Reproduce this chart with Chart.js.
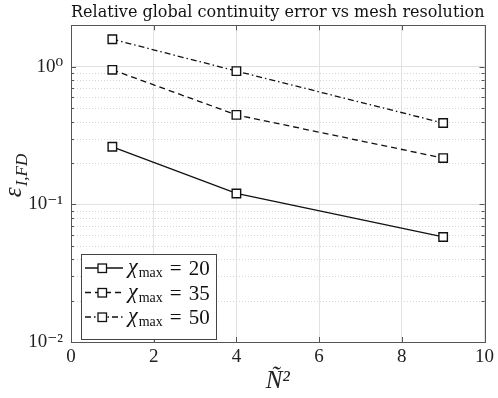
<!DOCTYPE html>
<html>
<head>
<meta charset="utf-8">
<script src="https://cdn.jsdelivr.net/npm/chart.js@4"></script>
<style>
  html, body { margin: 0; padding: 0; background: #fff; }
  #wrap { width: 498px; height: 398px; }
</style>
</head>
<body>
<div id="wrap"><canvas id="errChart" width="498" height="398"></canvas></div>
<script>
'use strict';

// --- data ---
const xValues = [1, 4, 9];
const chi20 = [0.262, 0.120, 0.058];
const chi35 = [0.95, 0.447, 0.217];
const chi50 = [1.585, 0.93, 0.39];
const seriesNames = ['20', '35', '50'];
const xTicks = [0, 2, 4, 6, 8, 10];
const yMajor = [0.01, 0.1, 1];
const yMajorLabels = ['10\u207B\u00B2', '10\u207B\u00B9', '10\u2070'];

const SERIF = '"Liberation Serif", "DejaVu Serif", serif';
const dashes = [[], [6, 4], [6, 3, 1.5, 3]];

// minor + major log positions for the y axis
function logTicks(min, max) {
  const out = [];
  for (let e = -2; e <= 0; e++) {
    for (let m = 1; m <= 9; m++) {
      const v = +(m * Math.pow(10, e)).toPrecision(3);
      if (v >= min && v <= max) out.push(v);
    }
  }
  return out;
}
const isMajor = v => Math.abs(Math.log10(v) - Math.round(Math.log10(v))) < 1e-6;

// grid, inward ticks and box, MATLAB style
const axesDecor = {
  id: 'axesDecor',
  beforeDatasetsDraw(chart) {
    const { ctx, chartArea: a, scales: { y } } = chart;
    ctx.save();
    ctx.lineWidth = 1;
    ctx.strokeStyle = '#d4d4d4';
    ctx.setLineDash([1, 2]);
    y.ticks.forEach(t => {
      if (isMajor(t.value)) return;
      const py = Math.round(y.getPixelForValue(t.value)) + 0.5;
      ctx.beginPath(); ctx.moveTo(a.left, py); ctx.lineTo(a.right, py); ctx.stroke();
    });
    ctx.restore();
  },
  afterDatasetsDraw(chart) {
    const { ctx, chartArea: a, scales: { x, y } } = chart;
    ctx.save();
    ctx.strokeStyle = '#555';
    ctx.lineWidth = 1;
    ctx.setLineDash([]);
    y.ticks.forEach(t => {
      const py = Math.round(y.getPixelForValue(t.value)) + 0.5;
      const len = isMajor(t.value) ? 5 : 3;
      ctx.beginPath();
      ctx.moveTo(a.left, py); ctx.lineTo(a.left + len, py);
      ctx.moveTo(a.right, py); ctx.lineTo(a.right - len, py);
      ctx.stroke();
    });
    x.ticks.forEach(t => {
      const px = Math.round(x.getPixelForValue(t.value)) + 0.5;
      ctx.beginPath();
      ctx.moveTo(px, a.bottom); ctx.lineTo(px, a.bottom - 5);
      ctx.moveTo(px, a.top); ctx.lineTo(px, a.top + 5);
      ctx.stroke();
    });
    ctx.strokeRect(Math.round(a.left) + 0.5, Math.round(a.top) + 0.5,
      Math.round(a.right - a.left), Math.round(a.bottom - a.top));
    ctx.restore();
  },
  afterDraw(chart) {
    const { ctx } = chart;
    ctx.save();
    // y axis label: epsilon with subscript I,FD
    ctx.translate(17, 176);
    ctx.rotate(-Math.PI / 2);
    ctx.fillStyle = '#222';
    ctx.textBaseline = 'alphabetic';
    ctx.font = 'italic 25px ' + SERIF;
    const w1 = ctx.measureText('\u03B5').width;
    ctx.font = 'italic 17px ' + SERIF;
    const w2 = ctx.measureText('I,FD').width;
    const x0 = -(w1 + w2) / 2;
    ctx.font = 'italic 25px ' + SERIF;
    ctx.fillText('\u03B5', x0, 4);
    ctx.font = 'italic 17px ' + SERIF;
    ctx.fillText('I,FD', x0 + w1 + 1, 10);
    ctx.restore();

    // legend box
    const lx = 81, ly = 254, lw = 135, lh = 85;
    ctx.save();
    ctx.fillStyle = '#fff';
    ctx.fillRect(lx, ly, lw, lh);
    ctx.strokeStyle = '#444';
    ctx.lineWidth = 1;
    ctx.strokeRect(lx + 0.5, ly + 0.5, lw, lh);
    chart.data.datasets.forEach((ds, i) => {
      const ry = 268 + i * 24.5;
      ctx.strokeStyle = '#111';
      ctx.lineWidth = 1.3;
      ctx.setLineDash(dashes[i]);
      ctx.beginPath(); ctx.moveTo(85, ry); ctx.lineTo(123, ry); ctx.stroke();
      ctx.setLineDash([]);
      ctx.fillStyle = '#fff';
      ctx.fillRect(98, ry - 4, 8.5, 8.5);
      ctx.strokeRect(98, ry - 4, 8.5, 8.5);
      ctx.fillStyle = '#111';
      ctx.textBaseline = 'alphabetic';
      ctx.font = 'italic 22px ' + SERIF;
      ctx.fillText('\u03C7', 128, ry + 5);
      let tx = 128 + ctx.measureText('\u03C7').width + 1;
      ctx.font = '14px ' + SERIF;
      ctx.fillText('max', tx, ry + 9);
      tx += ctx.measureText('max').width + 7;
      ctx.font = '21px ' + SERIF;
      ctx.fillText('=', tx, ry + 7);
      tx += ctx.measureText('=').width + 7;
      ctx.fillText(seriesNames[i], tx, ry + 7);
    });
    ctx.restore();
  }
};

function mkSet(label, data, dash) {
  return {
    label,
    data: xValues.map((x, i) => ({ x, y: data[i] })),
    borderColor: '#111',
    borderWidth: 1.3,
    borderDash: dash,
    backgroundColor: '#fff',
    pointStyle: 'rect',
    pointRadius: 6,
    pointBorderWidth: 1.4,
    pointBorderColor: '#111',
    pointBackgroundColor: '#fff',
    tension: 0,
    fill: false,
  };
}

new Chart(document.getElementById('errChart').getContext('2d'), {
  type: 'line',
  data: {
    datasets: [
      mkSet('\u03C7max = 20', chi20, dashes[0]),
      mkSet('\u03C7max = 35', chi35, dashes[1]),
      mkSet('\u03C7max = 50', chi50, dashes[2]),
    ],
  },
  options: {
    responsive: false,
    animation: false,
    devicePixelRatio: 1,
    layout: { padding: { left: 0, right: 11, top: 0, bottom: 0 } },
    plugins: {
      legend: { display: false },
      tooltip: { enabled: false },
      title: {
        display: true,
        fullSize: false,
        text: 'Relative global continuity error vs mesh resolution',
        color: '#111',
        font: { family: '"DejaVu Serif", serif', size: 16.5, weight: 'normal', lineHeight: 1.05 },
        padding: { top: 4, bottom: 4 },
      },
    },
    scales: {
      x: {
        type: 'linear',
        min: 0,
        max: 10,
        afterBuildTicks: s => { s.ticks = xTicks.map(v => ({ value: v })); },
        afterFit: s => { s.height = 56; },
        grid: { color: '#e2e2e2', drawTicks: false, lineWidth: 1 },
        border: { display: false },
        ticks: {
          color: '#222',
          padding: 4,
          font: { family: SERIF, size: 19 },
          maxRotation: 0,
        },
        title: {
          display: true,
          text: '\u00D1\u00B2',
          color: '#222',
          font: { family: SERIF, size: 25, style: 'italic' },
          padding: { top: 0, bottom: 2 },
        },
      },
      y: {
        type: 'logarithmic',
        min: 0.01,
        max: 2,
        afterBuildTicks: s => { s.ticks = logTicks(0.01, 2).map(v => ({ value: v })); },
        afterFit: s => { s.width = 71; },
        grid: {
          drawTicks: false,
          color: c => (c.tick && isMajor(c.tick.value) ? '#e2e2e2' : 'rgba(0,0,0,0)'),
        },
        border: { display: false },
        ticks: {
          autoSkip: false,
          color: '#222',
          padding: 8,
          font: { family: SERIF, size: 19 },
          callback: v => {
            const k = yMajor.findIndex(m => Math.abs(m - v) < 1e-9);
            return k >= 0 ? yMajorLabels[k] : '';
          },
        },
      },
    },
  },
  plugins: [axesDecor],
});
</script>
</body>
</html>
